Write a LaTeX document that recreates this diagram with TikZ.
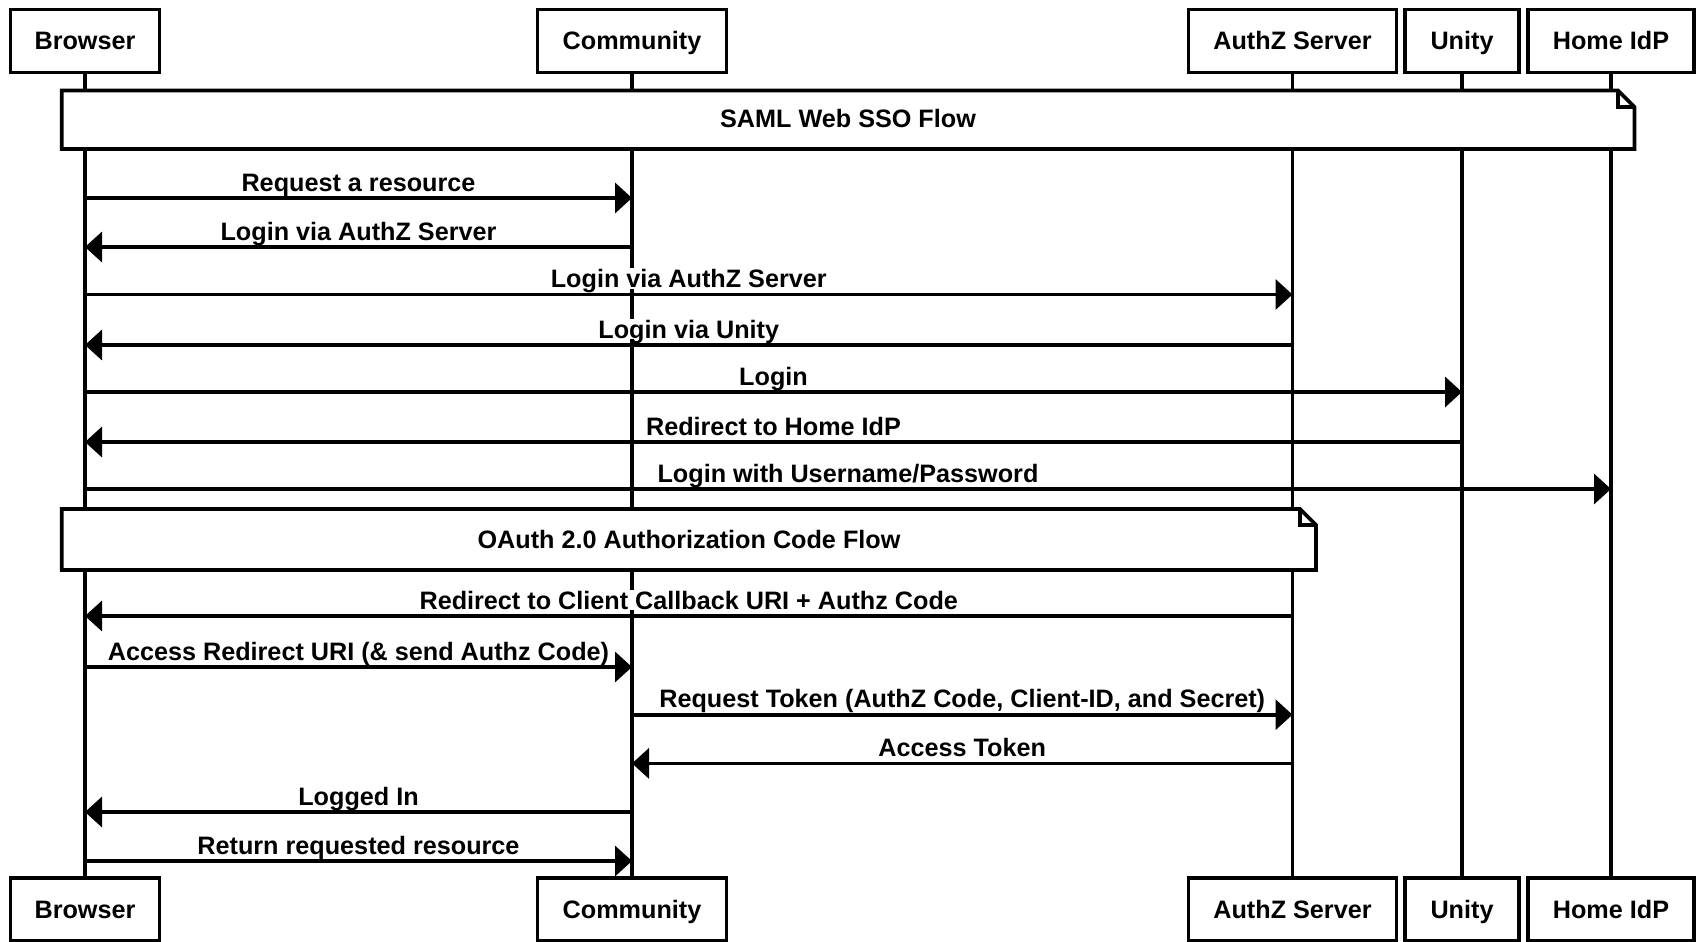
\documentclass[tikz,border=0pt]{standalone}
\usepackage{fontspec}
\setmainfont{Liberation Sans}
\usetikzlibrary{arrows.meta}
\begin{document}
\begin{tikzpicture}[x=1pt,y=-1pt,
  every node/.style={font=\fontsize{25.2}{30}\selectfont\bfseries},
  actor/.style={draw, line width=3.6pt, fill=white, minimum height=63pt, inner sep=0pt, text height=18pt, text depth=0pt},
  life/.style={line width=3.6pt},
  msg/.style={line width=3.6pt, -{Triangle[length=17pt,width=30pt]}},
  lbl/.style={fill=white, inner sep=1pt, text depth=0pt, anchor=base, yshift=7pt},
  notetext/.style={text height=18pt, text depth=0pt},
  notebox/.style={line width=3.6pt, fill=white, line join=miter}]
\useasboundingbox (0,0) rectangle (1698,942);
% actors top
\node[actor, minimum width=149pt] (bT) at (85,41) {Browser};
\node[actor, minimum width=189pt] (cT) at (632,41) {Community};
\node[actor, minimum width=208pt] (aT) at (1292.5,41) {AuthZ Server};
\node[actor, minimum width=114pt] (uT) at (1462,41) {Unity};
\node[actor, minimum width=166pt] (hT) at (1611,41) {Home IdP};
% actors bottom
\node[actor, minimum width=149pt] (bB) at (85,909.5) {Browser};
\node[actor, minimum width=189pt] (cB) at (632,909.5) {Community};
\node[actor, minimum width=208pt] (aB) at (1292.5,909.5) {AuthZ Server};
\node[actor, minimum width=114pt] (uB) at (1462,909.5) {Unity};
\node[actor, minimum width=166pt] (hB) at (1611,909.5) {Home IdP};
% lifelines
\draw[life] (bT.south) -- (bB.north);
\draw[life] (cT.south) -- (cB.north);
\draw[life] (aT.south) -- (aB.north);
\draw[life] (uT.south) -- (uB.north);
\draw[life] (hT.south) -- (hB.north);
% SAML note
\draw[notebox] (61.7,90.5) -- (1618,90.5) -- (1634.5,107) -- (1634.5,149) -- (61.7,149) -- cycle;
\draw[notebox, fill=none] (1618,90.5) -- (1618,107) -- (1634.5,107);
\node[notetext] (saml) at (848,119) {SAML Web SSO Flow};
% OAuth note
\draw[notebox] (61.7,509) -- (1300,509) -- (1316,525) -- (1316,570) -- (61.7,570) -- cycle;
\draw[notebox, fill=none] (1300,509) -- (1300,525) -- (1316,525);
\node[notetext] (oauth) at (689,539) {OAuth 2.0 Authorization Code Flow};
% messages
\draw[msg] (bT |- 0,198) -- node[lbl]{Request a resource} (cT |- 0,198);
\draw[msg] (cT |- 0,247) -- node[lbl]{Login via AuthZ Server} (bT |- 0,247);
\draw[msg] (bT |- 0,294.5) -- node[lbl]{Login via AuthZ Server} (aT |- 0,294.5);
\draw[msg] (aT |- 0,345) -- node[lbl]{Login via Unity} (bT |- 0,345);
\draw[msg] (bT |- 0,392) -- node[lbl]{Login} (uT |- 0,392);
\draw[msg] (uT |- 0,442) -- node[lbl]{Redirect to Home IdP} (bT |- 0,442);
\draw[msg] (bT |- 0,489) -- node[lbl]{Login with Username/Password} (hT |- 0,489);
\draw[msg] (aT |- 0,616) -- node[lbl]{Redirect to Client Callback URI + Authz Code} (bT |- 0,616);
\draw[msg] (bT |- 0,667) -- node[lbl]{Access Redirect URI (\& send Authz Code)} (cT |- 0,667);
\draw[msg] (cT |- 0,714.7) -- node[lbl]{Request Token (AuthZ Code, Client-ID, and Secret)} (aT |- 0,714.7);
\draw[msg] (aT |- 0,763.4) -- node[lbl]{Access Token} (cT |- 0,763.4);
\draw[msg] (cT |- 0,812) -- node[lbl]{Logged In} (bT |- 0,812);
\draw[msg] (bT |- 0,861) -- node[lbl]{Return requested resource} (cT |- 0,861);
\end{tikzpicture}
\end{document}
